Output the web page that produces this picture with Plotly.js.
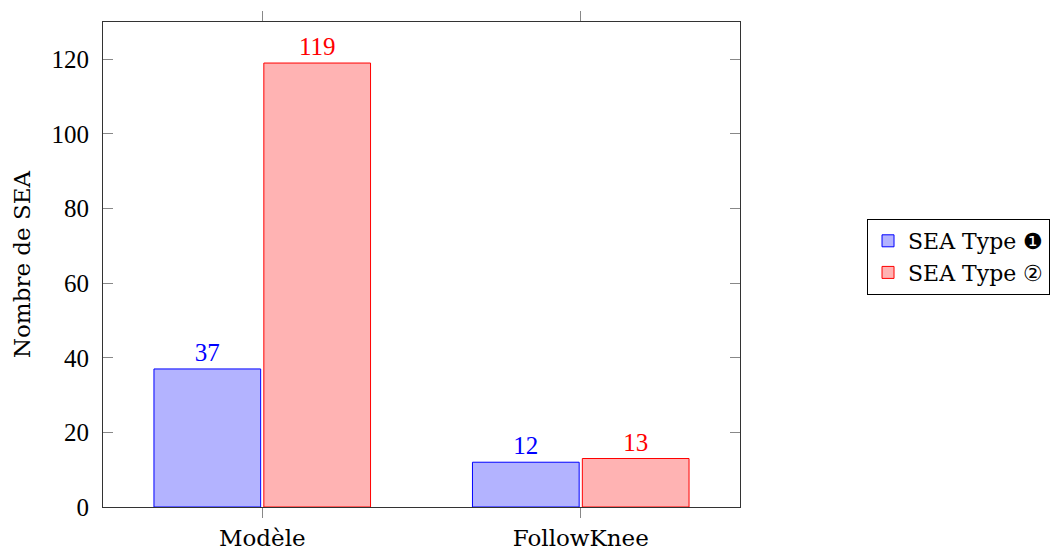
<!DOCTYPE html>
<html>
<head>
<meta charset="utf-8">
<script src="https://cdn.plot.ly/plotly-3.0.1.min.js"></script>
<style>html,body{margin:0;padding:0;background:#fff;}#chart{width:1054px;height:550px;}</style>
</head>
<body>
<div id="chart"></div>
<script>
const categories = ["Modèle", "FollowKnee"];
const seriesNames = ["SEA Type ❶", "SEA Type ②"];
const type1Values = [37, 12];
const type2Values = [119, 13];
const yTickValues = [0, 20, 40, 60, 80, 100, 120];

const NUMFONT = "Liberation Serif, serif";
const WORDFONT = "DejaVu Serif, serif";
const xIdx = categories.map((c, i) => i);

const traces = [
  {
    type: "bar", name: seriesNames[0], x: xIdx, y: type1Values,
    width: 0.335, offset: -0.34,
    marker: {color: "rgb(179,179,255)", line: {color: "rgb(0,0,255)", width: 1}},
    text: type1Values.map(String), textposition: "outside", cliponaxis: false,
    textfont: {family: NUMFONT, size: 25, color: "rgb(0,0,255)"}
  },
  {
    type: "bar", name: seriesNames[1], x: xIdx, y: type2Values,
    width: 0.335, offset: 0.005,
    marker: {color: "rgb(255,179,179)", line: {color: "rgb(255,0,0)", width: 1}},
    text: type2Values.map(String), textposition: "outside", cliponaxis: false,
    textfont: {family: NUMFONT, size: 25, color: "rgb(255,0,0)"}
  }
];

const layout = {
  width: 1054, height: 550,
  margin: {l: 103, r: 314, t: 22, b: 43, pad: 0, autoexpand: false},
  paper_bgcolor: "#fff", plot_bgcolor: "#fff",
  font: {family: WORDFONT, size: 23, color: "#000"},
  barmode: "group",
  showlegend: true,
  legend: {
    xref: "container", yref: "container",
    x: 0.8226, y: 0.6018, xanchor: "left", yanchor: "top",
    bordercolor: "#000", borderwidth: 1, bgcolor: "#fff",
    font: {family: WORDFONT, size: 22, color: "#000"},
    tracegroupgap: 0
  },
  xaxis: {
    range: [-0.5, 1.5],
    tickmode: "array", tickvals: xIdx, ticktext: categories,
    ticks: "outside", ticklen: 10, tickcolor: "#888", tickwidth: 1,
    showline: true, linecolor: "#333", linewidth: 1, mirror: "allticks",
    showgrid: false, zeroline: false, fixedrange: true,
    tickfont: {family: WORDFONT, size: 23, color: "#000"}
  },
  yaxis: {
    range: [0, 130],
    tickmode: "array", tickvals: yTickValues,
    ticks: "inside", ticklen: 10, tickcolor: "#888", tickwidth: 1,
    showline: true, linecolor: "#333", linewidth: 1, mirror: "allticks",
    showgrid: false, zeroline: false, fixedrange: true,
    ticklabelstandoff: 8,
    tickfont: {family: NUMFONT, size: 25, color: "#000"},
    title: {text: "Nombre de SEA", font: {family: WORDFONT, size: 23, color: "#000"}, standoff: 14}
  }
};

Plotly.newPlot("chart", traces, layout, {displayModeBar: false, staticPlot: true});
</script>
</body>
</html>
